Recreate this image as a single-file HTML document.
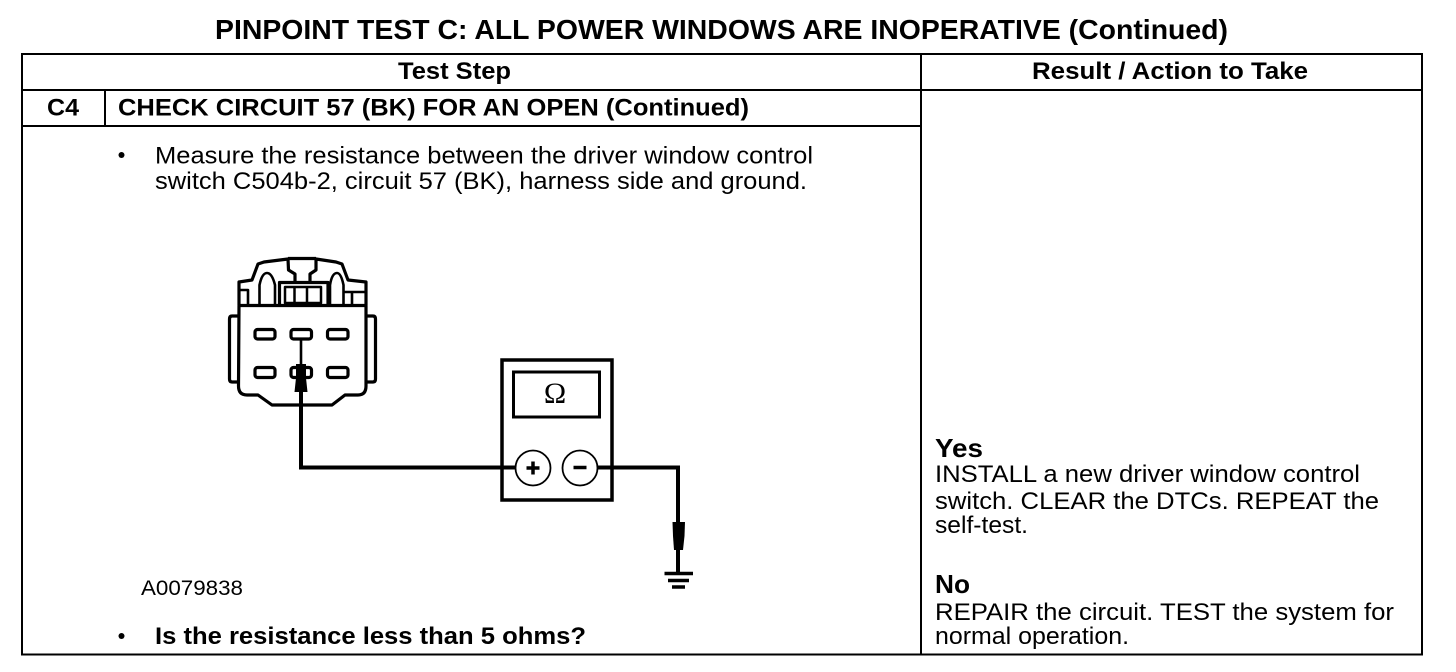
<!DOCTYPE html>
<html><head><meta charset="utf-8"><style>
html,body{margin:0;padding:0;background:#fff;width:1456px;height:672px;overflow:hidden}
svg{display:block}
text{font-family:"Liberation Sans",sans-serif;fill:#000}
.b{font-weight:bold}
</style></head><body>
<svg width="1456" height="672" viewBox="0 0 1456 672" xmlns="http://www.w3.org/2000/svg">
<rect width="1456" height="672" fill="#fff"/>
<text class="b" x="215" y="39" font-size="28" textLength="1013" lengthAdjust="spacingAndGlyphs">PINPOINT TEST C: ALL POWER WINDOWS ARE INOPERATIVE (Continued)</text>
<g stroke="#000" stroke-width="2" fill="none">
<rect x="22" y="54" width="1400" height="600.5"/>
<path d="M22 90H1422M22 126H921M921 54V655M105 90V126"/>
</g>
<text class="b" x="398" y="79" font-size="24" textLength="113" lengthAdjust="spacingAndGlyphs">Test Step</text>
<text class="b" x="1032" y="79" font-size="24" textLength="276" lengthAdjust="spacingAndGlyphs">Result / Action to Take</text>
<text class="b" x="47" y="115.5" font-size="24" textLength="32" lengthAdjust="spacingAndGlyphs">C4</text>
<text class="b" x="118" y="115.5" font-size="24" textLength="631" lengthAdjust="spacingAndGlyphs">CHECK CIRCUIT 57 (BK) FOR AN OPEN (Continued)</text>
<circle cx="121.5" cy="155" r="3" fill="#000"/>
<text x="155" y="163.5" font-size="24" textLength="658" lengthAdjust="spacingAndGlyphs">Measure the resistance between the driver window control</text>
<text x="155" y="189" font-size="24" textLength="652" lengthAdjust="spacingAndGlyphs">switch C504b-2, circuit 57 (BK), harness side and ground.</text>
<text x="141" y="595" font-size="21" textLength="102" lengthAdjust="spacingAndGlyphs">A0079838</text>
<circle cx="121.5" cy="636" r="3" fill="#000"/>
<text class="b" x="155" y="644" font-size="24" textLength="431" lengthAdjust="spacingAndGlyphs">Is the resistance less than 5 ohms?</text>
<text class="b" x="935" y="457" font-size="26" textLength="48" lengthAdjust="spacingAndGlyphs">Yes</text>
<text x="935" y="482" font-size="24" textLength="425" lengthAdjust="spacingAndGlyphs">INSTALL a new driver window control</text>
<text x="935" y="509" font-size="24" textLength="444" lengthAdjust="spacingAndGlyphs">switch. CLEAR the DTCs. REPEAT the</text>
<text x="935" y="533" font-size="24" textLength="93" lengthAdjust="spacingAndGlyphs">self-test.</text>
<text class="b" x="935" y="593" font-size="26" textLength="35" lengthAdjust="spacingAndGlyphs">No</text>
<text x="935" y="620" font-size="24" textLength="459" lengthAdjust="spacingAndGlyphs">REPAIR the circuit. TEST the system for</text>
<text x="935" y="644" font-size="24" textLength="194" lengthAdjust="spacingAndGlyphs">normal operation.</text>

<!-- connector -->
<g stroke="#000" stroke-width="3.2" fill="none" stroke-linejoin="round">
<path d="M239 305.5H366V386Q366 395 358 395H345L332 405H272L258 395H247Q238.500 395 238.500 386Z"/>
<path d="M238 316H232Q229.500 316 229.500 319V379Q229.500 382 232 382H238M366 316H373Q375.500 316 375.500 319V379Q375.500 382 373 382H366"/>
<path d="M239 305V282L252 280L258 264L264 262L288 259L288.500 270L295 274V283M366 305V282L348 280L342 264L336 262L316 259L316 270L310 274V283"/>
<path d="M288 258.500H316"/>
<path d="M279.500 305V282.500H328V305"/>
<path d="M285 287H321V303H285ZM294.500 287V303M307 287V303" stroke-width="2.5"/>
<path d="M240 290H248V305M259.500 305V285Q262 273 267 273Q272 273 275 285V305M343 292H365M352 292V305M330 305V285Q332 273 337 273Q341 273 343.500 285V305" stroke-width="2.6"/>
<rect x="255" y="329.500" width="20" height="9.500" rx="2.500"/>
<rect x="291" y="329.500" width="20.500" height="9.500" rx="2.500"/>
<rect x="327.500" y="329.500" width="20.500" height="9.500" rx="2.500"/>
<rect x="255" y="367.500" width="20" height="10" rx="2.500"/>
<rect x="291" y="367.500" width="20.500" height="10" rx="2.500"/>
<rect x="327.500" y="367.500" width="20.500" height="10" rx="2.500"/>
</g>
<path d="M299.700 339H302.300V364H299.700Z" fill="#000"/>
<path d="M296 364H306L306 378L307.500 392H294.500L296 378Z" fill="#000"/>
<path d="M301 392V467.500H515" stroke="#000" stroke-width="4" fill="none"/>

<!-- meter -->
<rect x="502" y="360" width="110" height="140" fill="none" stroke="#000" stroke-width="3.500"/>
<rect x="513.500" y="372" width="86" height="45" fill="none" stroke="#000" stroke-width="3"/>
<text x="555" y="403" font-size="30" text-anchor="middle" style="font-family:'Liberation Serif',serif">Ω</text>
<circle cx="533" cy="468" r="17.500" fill="#fff" stroke="#000" stroke-width="1.800"/>
<circle cx="580" cy="468" r="17.500" fill="#fff" stroke="#000" stroke-width="1.800"/>
<path d="M526.500 468H539.500M533 461.500V474.500M573.500 467.500H586.500" stroke="#000" stroke-width="3.500" fill="none"/>
<path d="M598 467.500H678V574" stroke="#000" stroke-width="4" fill="none"/>
<path d="M672.500 522H685L684.500 536L683 550H674L673 536Z" fill="#000"/>
<path d="M664.500 573.500H693M668 580.500H689M672 587H685" stroke="#000" stroke-width="3.500" fill="none"/>
</svg>
</body></html>
